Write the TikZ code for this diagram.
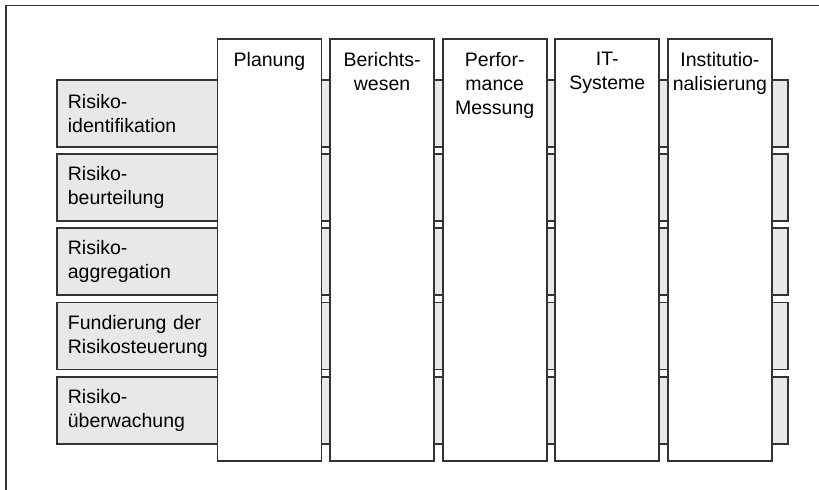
\documentclass[tikz,border=0pt]{standalone}
\usepackage{fontspec}
\setmainfont{Liberation Sans}
\usetikzlibrary{positioning}

\tikzset{
  frame/.style={draw=black!80, line width=0.8pt},
  rowbox/.style={draw=black!80, line width=0.9pt, fill=black!9, anchor=north west,
    minimum height=33.5pt, text width=354.5pt, inner sep=5.5pt, align=left,
    font=\fontsize{9.75}{12}\selectfont},
  colbox/.style={draw=black!80, line width=0.9pt, fill=white, anchor=north,
    minimum width=52pt, minimum height=211pt, inner sep=0pt},
  collabel/.style={align=center, inner sep=0pt, font=\fontsize{9.75}{12}\selectfont}
}

\begin{document}
\begin{tikzpicture}[x=0.5pt, y=-0.5pt]
      \useasboundingbox (0,0) rectangle (819,490);
      % Rahmen
      \draw[frame] (6,490) -- (6,5.5) -- (819,5.5);
      % Prozessschritte
      \node[rowbox] (r1) at (56,79) {Risiko-\\identifikation};
      \node[rowbox] (r2) at (56,153.2) {Risiko-\\beurteilung};
      \node[rowbox] (r3) at (56,227.4) {Risiko-\\aggregation};
      \node[rowbox] (r4) at (56,301.6) {Fundierung der\\Risikosteuerung};
      \node[rowbox] (r5) at (56,375.8) {Risiko-\\überwachung};
      % Querschnittsfunktionen
      \node[colbox] (c1) at (269.5,38) {};
      \node[colbox] (c2) at (382.1,38) {};
      \node[colbox] (c3) at (494.7,38) {};
      \node[colbox] (c4) at (607.3,38) {};
      \node[colbox] (c5) at (719.9,38) {};
      \node[collabel, below=7pt of c1.north] (l1) {Planung};
      \node[collabel, below=7pt of c2.north] (l2) {Berichts-\\wesen};
      \node[collabel, below=7pt of c3.north] (l3) {Perfor-\\mance\\Messung};
      \node[collabel, below=7pt of c4.north] (l4) {IT-\\Systeme};
      \node[collabel, below=7pt of c5.north] (l5) {Institutio-\\nalisierung};
\end{tikzpicture}
\end{document}
